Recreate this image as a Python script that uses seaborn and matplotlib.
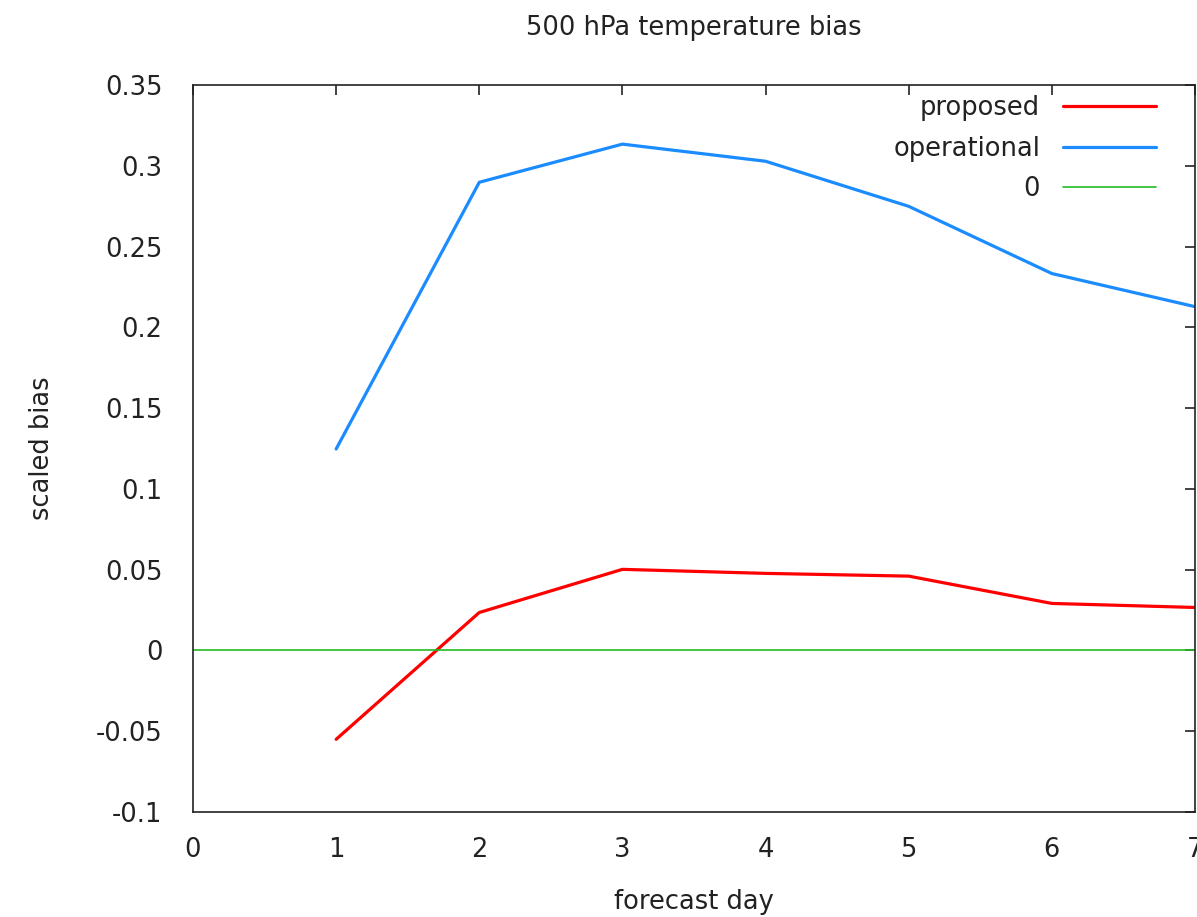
import matplotlib
matplotlib.use("Agg")
import matplotlib.pyplot as plt
import seaborn as sns
import pandas as pd

days = [1, 2, 3, 4, 5, 6, 7]
proposed = [-0.055, 0.0235, 0.0502, 0.0477, 0.0460, 0.0291, 0.0266]
operational = [0.1247, 0.2898, 0.3134, 0.3028, 0.2749, 0.2333, 0.2128]
x_ticks = [0, 1, 2, 3, 4, 5, 6, 7]
y_ticks = [-0.1, -0.05, 0, 0.05, 0.1, 0.15, 0.2, 0.25, 0.3, 0.35]
y_labels = ["-0.1", "-0.05", "0", "0.05", "0.1", "0.15", "0.2", "0.25", "0.3", "0.35"]

sns.set_style("white")
plt.rcParams['font.family'] = ['DejaVu Sans']

FS = 18.5
fig = plt.figure(figsize=(11.97, 9.17), dpi=100)
ax = fig.add_axes([193/1197, 1-812/917, (1195-193)/1197, (812-85)/917])

df = pd.DataFrame({"day": days, "proposed": proposed, "operational": operational})
sns.lineplot(data=df, x="day", y="proposed", ax=ax, color="#ff0000", lw=2.3, label="proposed")
sns.lineplot(data=df, x="day", y="operational", ax=ax, color="#1a8cff", lw=2.3, label="operational")
ax.axhline(0, color="#22bb22", lw=1.2, label="0")

ax.set_xlim(0, 7)
ax.set_ylim(-0.1, 0.35)
ax.set_xticks(x_ticks)
ax.set_yticks(y_ticks)
ax.set_yticklabels(y_labels)
ax.tick_params(direction="in", length=7, width=1.2, labelsize=FS, top=True, right=True,
               labeltop=False, labelright=False, colors="#222222")
ax.tick_params(axis="x", pad=18)
ax.tick_params(axis="y", pad=22)
for s in ax.spines.values():
    s.set_color("#222222")
    s.set_linewidth(1.2)

ax.set_xlabel("forecast day", fontsize=FS, labelpad=19, color="#222222")
ax.set_ylabel("scaled bias", fontsize=FS, labelpad=29, color="#222222")
ax.set_title("500 hPa temperature bias", fontsize=FS, pad=36, color="#222222")

leg = ax.legend(loc="upper right", frameon=False, markerfirst=False, fontsize=FS,
                handlelength=3.6, handletextpad=0.9, labelspacing=0.56,
                borderaxespad=0.0, bbox_to_anchor=(0.971, 1.0))
for t in leg.get_texts():
    t.set_color("#222222")

fig.savefig("out.png", dpi=100)
